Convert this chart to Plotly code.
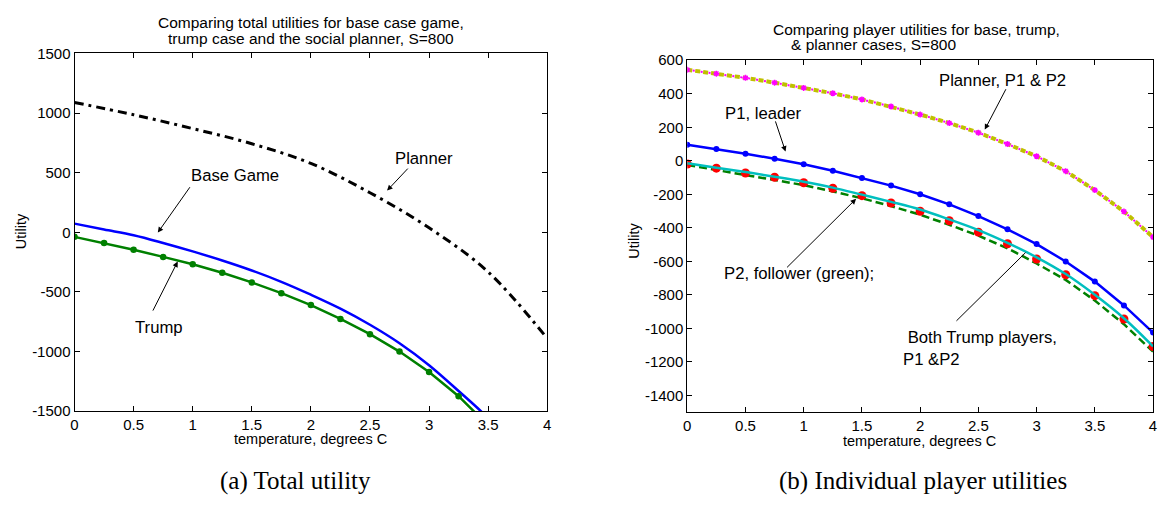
import plotly.graph_objects as go

# ---------------- data ----------------
t_quarter = [0, 0.25, 0.5, 0.75, 1.0, 1.25, 1.5, 1.75, 2.0, 2.25, 2.5, 2.75, 3.0, 3.25, 3.5, 3.75, 4.0]
t_half = [0, 0.5, 1.0, 1.5, 2.0, 2.5, 3.0, 3.5, 4.0]

# (a) total utility
planner_total = [1089, 986, 870, 743, 578, 332, 38, -332, -890]
base_total = [73, 24, -24, -89, -160, -236, -320, -415, -523, -640, -775, -930, -1114, -1331, -1560, -1850, -2200]
trump_total = [-38, -89, -146, -206, -268, -339, -420, -510, -610, -726, -854, -1000, -1171, -1374, -1620, -1900, -2220]

# (b) individual player utilities
planner_player = [543, 520, 495, 466, 435, 403, 366, 324, 276, 225, 168, 100, 27, -62, -175, -303, -455]
p1_leader = [96, 71, 42, 12, -21, -60, -102, -148, -200, -260, -330, -409, -497, -601, -721, -863, -1025]
p2_follower = [-25, -54, -85, -112, -145, -183, -224, -270, -322, -382, -447, -522, -613, -711, -834, -975, -1139]
trump_p1 = [-19, -44, -73, -98, -131, -164, -208, -252, -301, -358, -426, -495, -586, -680, -805, -944, -1108]
trump_p2 = [-15, -41, -67, -95, -125, -160, -202, -245, -291, -350, -414, -490, -576, -676, -800, -940, -1108]

x_ticks = [0, 0.5, 1, 1.5, 2, 2.5, 3, 3.5, 4]
x_tick_text = ["0", "0.5", "1", "1.5", "2", "2.5", "3", "3.5", "4"]
y_ticks_a = [-1500, -1000, -500, 0, 500, 1000, 1500]
y_tick_text_a = ["-1500", "-1000", "-500", "0", "500", "1000", "1500"]
y_ticks_b = [-1400, -1200, -1000, -800, -600, -400, -200, 0, 200, 400, 600]
y_tick_text_b = ["-1400", "-1200", "-1000", "-800", "-600", "-400", "-200", "0", "200", "400", "600"]

# ---------------- layout helpers ----------------
W, H = 1163, 512
FONT = "Liberation Sans, Arial, sans-serif"
SERIF = "Liberation Serif, Times New Roman, serif"


def px(xp):
    return xp / W


def py(yp):
    return 1 - yp / H


fig = go.Figure()

# ----- (a) -----
fig.add_trace(go.Scatter(x=t_half, y=planner_total, mode="lines", xaxis="x", yaxis="y",
                         line=dict(color="black", width=3, dash="9px,5px,3px,5px", shape="spline"),
                         showlegend=False))
fig.add_trace(go.Scatter(x=t_quarter, y=base_total, mode="lines", xaxis="x", yaxis="y",
                         line=dict(color="#0000FF", width=2.5, shape="spline"), showlegend=False))
fig.add_trace(go.Scatter(x=t_quarter, y=trump_total, mode="lines+markers", xaxis="x", yaxis="y",
                         line=dict(color="#008000", width=2.5),
                         marker=dict(color="#008000", size=6.5, symbol="circle"), showlegend=False))

# ----- (b) -----
fig.add_trace(go.Scatter(x=t_quarter, y=planner_player, mode="lines", xaxis="x2", yaxis="y2",
                         line=dict(color="#BFBF00", width=4, dash="5px,3px"), showlegend=False))
fig.add_trace(go.Scatter(x=t_quarter, y=planner_player, mode="lines+markers", xaxis="x2", yaxis="y2",
                         line=dict(color="#FF00FF", width=2, dash="0px,5.5px,2px,0.5px"),
                         marker=dict(color="#FF00FF", size=5, symbol="asterisk-open",
                                     line=dict(color="#FF00FF", width=1.5)), showlegend=False))
fig.add_trace(go.Scatter(x=t_quarter, y=p1_leader, mode="lines+markers", xaxis="x2", yaxis="y2",
                         line=dict(color="#0000FF", width=2.5),
                         marker=dict(color="#0000FF", size=6, symbol="circle"), showlegend=False))
fig.add_trace(go.Scatter(x=t_quarter, y=p2_follower, mode="lines+markers", xaxis="x2", yaxis="y2",
                         line=dict(color="#008000", width=2.5, dash="8px,4px"),
                         marker=dict(color="rgba(0,0,0,0)", size=8.5, symbol="circle-open",
                                     line=dict(color="#008000", width=2)), showlegend=False))
fig.add_trace(go.Scatter(x=t_quarter, y=trump_p1, mode="markers", xaxis="x2", yaxis="y2",
                         marker=dict(color="#FF0000", size=9, symbol="circle"), showlegend=False))
fig.add_trace(go.Scatter(x=t_quarter, y=trump_p2, mode="lines", xaxis="x2", yaxis="y2",
                         line=dict(color="#00BFBF", width=2.5, shape="spline"), showlegend=False))

axis_common = dict(showline=True, mirror="ticks", ticks="inside", ticklen=5, tickwidth=1,
                   linecolor="black", linewidth=1, tickcolor="black", showgrid=False, zeroline=False,
                   tickfont=dict(family=FONT, size=15, color="black"))

fig.update_layout(
    width=W, height=H, margin=dict(l=0, r=0, t=0, b=0),
    paper_bgcolor="white", plot_bgcolor="white",
    font=dict(family=FONT, color="black"),
    xaxis=dict(domain=[px(71), px(547)], range=[0, 4], tickvals=x_ticks, ticktext=x_tick_text,
               anchor="y", **axis_common),
    yaxis=dict(domain=[py(416), py(46)], range=[-1500, 1500], tickvals=y_ticks_a, ticktext=y_tick_text_a,
               anchor="x", **axis_common),
    xaxis2=dict(domain=[px(688), px(1157)], range=[0, 4], tickvals=x_ticks, ticktext=x_tick_text,
                anchor="y2", **axis_common),
    yaxis2=dict(domain=[py(417), py(53)], range=[-1500, 600], tickvals=y_ticks_b, ticktext=y_tick_text_b,
                anchor="x2", **axis_common),
)

ann = []


def text_paper(text, xp, yp, size, xanchor="center", align="center", family=FONT, angle=0):
    ann.append(dict(text=text, x=px(xp), y=py(yp), xref="paper", yref="paper", showarrow=False,
                    xanchor=xanchor, yanchor="middle", align=align, textangle=angle,
                    font=dict(family=family, size=size, color="black")))


def text_data(text, x, y, xr, yr, size=16.7, xanchor="center", align="center"):
    ann.append(dict(text=text, x=x, y=y, xref=xr, yref=yr, showarrow=False, xanchor=xanchor,
                    yanchor="middle", align=align, font=dict(family=FONT, size=size, color="black")))


def arrow(x, y, ax, ay, xr, yr, head=2):
    ann.append(dict(text="", x=x, y=y, ax=ax, ay=ay, xref=xr, yref=yr, axref=xr, ayref=yr,
                    showarrow=True, arrowhead=head, arrowsize=1.1, arrowwidth=1, arrowcolor="black",
                    standoff=0, startstandoff=0))


# titles
text_paper("Comparing total utilities for base case game,", 309, 14, 15.5)
text_paper("trump case and the social planner, S=800", 309, 30, 15.5)
text_paper("Comparing player utilities for base, trump,", 919, 21, 15.5)
text_paper("&amp; planner cases, S=800", 876, 37, 15.5)

# axis titles
text_paper("temperature, degrees C", 309, 445, 14.5)
text_paper("temperature, degrees C", 922, 447, 14.5)
text_paper("Utility", 17, 230, 14.5, angle=-90)
text_paper("Utility", 634, 240, 14.5, angle=-90)

# captions
text_paper("(a) Total utility", 294, 488, 25, family=SERIF)
text_paper("(b) Individual player utilities", 925, 488, 25, family=SERIF)

# (a) annotations
text_data("Base Game", 1.36, 474, "x", "y")
arrow(0.705, -2, 0.985, 391, "x", "y")
text_data("Planner", 2.96, 620, "x", "y")
arrow(2.645, 350, 2.832, 547, "x", "y")
text_data("Trump", 0.714, -799, "x", "y")
arrow(0.873, -245, 0.657, -669, "x", "y")

# (b) annotations
text_data("Planner, P1 &amp; P2", 2.708, 479, "x2", "y2")
arrow(2.555, 186, 2.743, 436, "x2", "y2")
text_data("P1, leader", 0.657, 283, "x2", "y2")
arrow(0.844, 55, 0.753, 244, "x2", "y2")
text_data("P2, follower (green);", 0.958, -670, "x2", "y2")
arrow(1.450, -227, 0.844, -645, "x2", "y2")
text_data("\u00a0Both Trump players,<br>P1 &amp;P2", 1.834, -1122, "x2", "y2", xanchor="left", align="left")
arrow(2.905, -548, 2.299, -964, "x2", "y2", head=0)

fig.update_layout(annotations=ann)

fig.write_html("out.html")
